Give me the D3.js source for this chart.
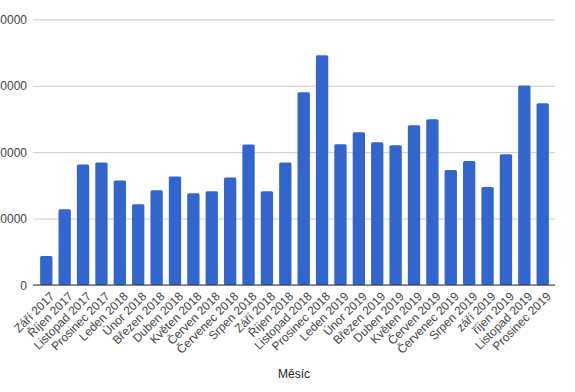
<!DOCTYPE html>
<html><head><meta charset="utf-8">
<script src="https://cdn.jsdelivr.net/npm/d3@7"></script>
<style>body{margin:0;background:#fff}svg{display:block;font-family:Arial,"Liberation Sans",sans-serif}</style>
</head><body><svg id="c" width="575" height="392"></svg>
<script>
const categories = ["Září 2017","Říjen 2017","Listopad 2017","Prosinec 2017","Leden 2018","Únor 2018","Březen 2018","Duben 2018","Květen 2018","Červen 2018","Červenec 2018","Srpen 2018","Září 2018","Říjen 2018","Listopad 2018","Prosinec 2018","Leden 2019","Únor 2019","Březen 2019","Duben 2019","Květen 2019","Červen 2019","Červenec 2019","Srpen 2019","září 2019","říjen 2019","Listopad 2019","Prosinec 2019"];
const values = [4350,11400,18150,18450,15750,12150,14250,16350,13800,14100,16200,21150,14100,18450,29000,34600,21200,23000,21500,21050,24050,24950,17300,18650,14750,19700,30050,27350];
const yTicks = [0,10000,20000,30000,40000];
const xTitle = "Měsíc";

const svg = d3.select("#c");
const gridLeft = 33, gridRight = 555;
const y = d3.scaleLinear().domain([0,40000]).range([285,19.3]);
const x = d3.scaleBand().domain(categories).range([37,552]).paddingInner(0.33).paddingOuter(0.17);

const yAxis = d3.axisLeft(y).tickValues(yTicks).tickSize(-(gridRight-gridLeft)).tickFormat(d3.format("d"));
const gy = svg.append("g").attr("transform",`translate(${gridLeft},0)`).call(yAxis);
gy.select(".domain").remove();
gy.selectAll(".tick line").attr("stroke","#cccccc").attr("stroke-width",1);
gy.selectAll(".tick text").attr("x",-6).attr("fill","#444").attr("font-size",12).attr("dy","0.35em");

svg.append("g").selectAll("rect").data(values).join("rect")
  .attr("x",(d,i)=>x(categories[i]))
  .attr("y",d=>y(d))
  .attr("width",x.bandwidth())
  .attr("height",d=>y(0)-y(d))
  .attr("rx",1.5)
  .attr("fill","#3366cc");

const xAxis = d3.axisBottom(x).tickSize(0);
const gx = svg.append("g").attr("transform",`translate(0,${y(0)})`).call(xAxis);
gx.select(".domain").remove();
gx.selectAll(".tick text")
  .attr("fill","#444").attr("font-size",12)
  .attr("text-anchor","end")
  .attr("transform","translate(6,9) rotate(-45)")
  .attr("x",0).attr("y",0).attr("dy","0.35em");

svg.append("line").attr("x1",gridLeft).attr("x2",gridRight).attr("y1",y(0)).attr("y2",y(0))
  .attr("stroke","#333").attr("stroke-width",1);

svg.append("text").attr("x",294).attr("y",378).attr("text-anchor","middle")
  .attr("font-size",12).attr("fill","#222").text(xTitle);
</script></body></html>
